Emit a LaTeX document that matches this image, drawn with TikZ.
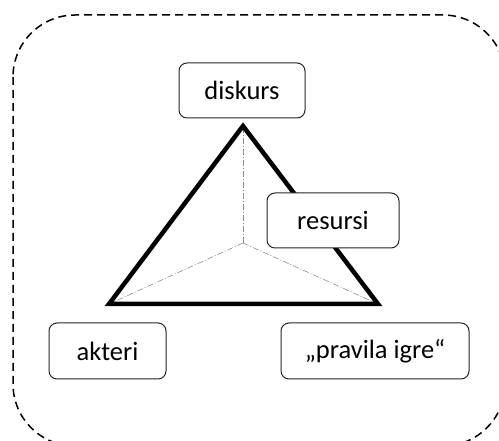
\documentclass[tikz,border=0pt]{standalone}
\usepackage{fontspec}
\setmainfont{Carlito}
\begin{document}
\begin{tikzpicture}[x=1pt,y=-1pt,
  lbox/.style={draw=black!85,line width=1pt,fill=white,rounded corners=8pt,
    inner sep=0pt,font=\fontsize{26.5}{30}\selectfont,text=black},
  tri/.style={line width=4.5pt,draw=black},
  spoke/.style={draw=black!45,line width=0.6pt,dash pattern=on 6pt off 2pt on 1pt off 2pt}]
\useasboundingbox (0,0) rectangle (499,441);
\draw[line width=1.5pt,black,dash pattern=on 8pt off 5pt,rounded corners=62pt]
  (13,15) rectangle (505,446);
\coordinate (A) at (243,126);
\coordinate (L) at (109,304);
\coordinate (R) at (378,304);
\coordinate (C) at (243,243);
\draw[spoke] (C) -- (A);
\draw[spoke] (C) -- (L);
\draw[spoke] (C) -- (R);
\draw[tri] (A) -- (L) -- (R) -- cycle;
\node[lbox,minimum width=126pt,minimum height=55pt] (diskurs) at (242,90.5) {diskurs};
\node[lbox,minimum width=132pt,minimum height=55pt] (resursi) at (333,220.5) {resursi};
\node[lbox,minimum width=117pt,minimum height=56pt] (akteri) at (107.5,351) {akteri};
\node[lbox,minimum width=188pt,minimum height=56pt] (pravila) at (375,351) {„pravila igre“};
\end{tikzpicture}
\end{document}
